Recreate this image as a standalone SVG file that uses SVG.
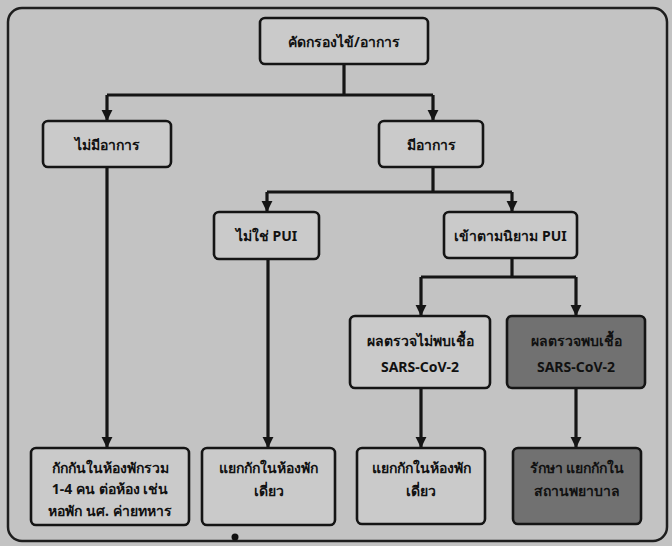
<svg xmlns="http://www.w3.org/2000/svg" width="672" height="546" viewBox="0 0 672 546">
<defs>
<marker id="ah" viewBox="0 0 10 10" refX="10" refY="5" markerWidth="3.4" markerHeight="3.6" orient="auto" markerUnits="strokeWidth">
<path d="M0,0 L10,5 L0,10 Z" fill="#151515"/>
</marker>
<style>
.bg{fill:#c3c3c3}
.frame{fill:none;stroke:#1e1e1e;stroke-width:2.5}
.box{fill:#cacaca;stroke:#151515;stroke-width:2.6}
.dark{fill:#717171;stroke:#151515;stroke-width:2.6}
.t{font-family:"Noto Sans","DejaVu Sans","Liberation Sans",sans-serif;font-size:14px;font-weight:bold;fill:#111;text-anchor:middle;dominant-baseline:central}
.c{fill:none;stroke:#151515;stroke-width:3.2}
.a{fill:none;stroke:#151515;stroke-width:3.2;marker-end:url(#ah)}
</style>
</defs>
<rect class="bg" x="0" y="0" width="672" height="546"/>
<rect class="frame" x="8" y="8" width="659" height="533" rx="14"/>
<g id="connectors">
<path class="c" d="M344,64 V95"/>
<path class="c" d="M107,95 H433"/>
<path class="a" d="M107,95 V121"/>
<path class="a" d="M433,95 V121"/>
<path class="a" d="M107,167 V448"/>
<path class="c" d="M433,167 V192"/>
<path class="c" d="M267,192 H512"/>
<path class="a" d="M267,192 V212"/>
<path class="a" d="M512,192 V212"/>
<path class="a" d="M268,259 V448"/>
<path class="c" d="M512,258 V277"/>
<path class="c" d="M421,277 H576"/>
<path class="a" d="M421,277 V316"/>
<path class="a" d="M576,277 V316"/>
<path class="a" d="M421,388 V448"/>
<path class="a" d="M576,388 V448"/>
</g>
<g id="n1"><rect class="box" x="260" y="18" width="168" height="46" rx="5"/><text class="t" x="344" y="41">คัดกรองไข้/อาการ</text></g>
<g id="n2"><rect class="box" x="43" y="121" width="128" height="46" rx="5"/><text class="t" x="107" y="144">ไม่มีอาการ</text></g>
<g id="n3"><rect class="box" x="379" y="121" width="104" height="46" rx="5"/><text class="t" x="431" y="144">มีอาการ</text></g>
<g id="n4"><rect class="box" x="214" y="212" width="105" height="47" rx="5"/><text class="t" x="266.5" y="235">ไม่ใช่ PUI</text></g>
<g id="n5"><rect class="box" x="444" y="212" width="133" height="46" rx="5"/><text class="t" x="510.5" y="235">เข้าตามนิยาม PUI</text></g>
<g id="n6"><rect class="box" x="350" y="316" width="140" height="72" rx="5"/><text class="t" x="420" y="340">ผลตรวจไม่พบเชื้อ</text><text class="t" x="420" y="366">SARS-CoV-2</text></g>
<g id="n7"><rect class="dark" x="507" y="316" width="138" height="72" rx="5"/><text class="t" x="576" y="340">ผลตรวจพบเชื้อ</text><text class="t" x="576" y="366">SARS-CoV-2</text></g>
<g id="n8"><rect class="box" x="31" y="448" width="158" height="77" rx="5"/><text class="t" x="110" y="467">กักกันในห้องพักรวม</text><text class="t" x="110" y="488">1-4 คน ต่อห้อง เช่น</text><text class="t" x="110" y="510">หอพัก นศ. ค่ายทหาร</text></g>
<g id="n9"><rect class="box" x="202" y="448" width="133" height="77" rx="5"/><text class="t" x="268.5" y="467">แยกกักในห้องพัก</text><text class="t" x="268.5" y="490">เดี่ยว</text></g>
<g id="n10"><rect class="box" x="357" y="448" width="128" height="76" rx="5"/><text class="t" x="421" y="467">แยกกักในห้องพัก</text><text class="t" x="421" y="490">เดี่ยว</text></g>
<g id="n11"><rect class="dark" x="513" y="448" width="128" height="76" rx="5"/><text class="t" x="577" y="467">รักษา แยกกักใน</text><text class="t" x="577" y="490">สถานพยาบาล</text></g>
<circle cx="235" cy="537" r="3.5" fill="#111"/>
</svg>
